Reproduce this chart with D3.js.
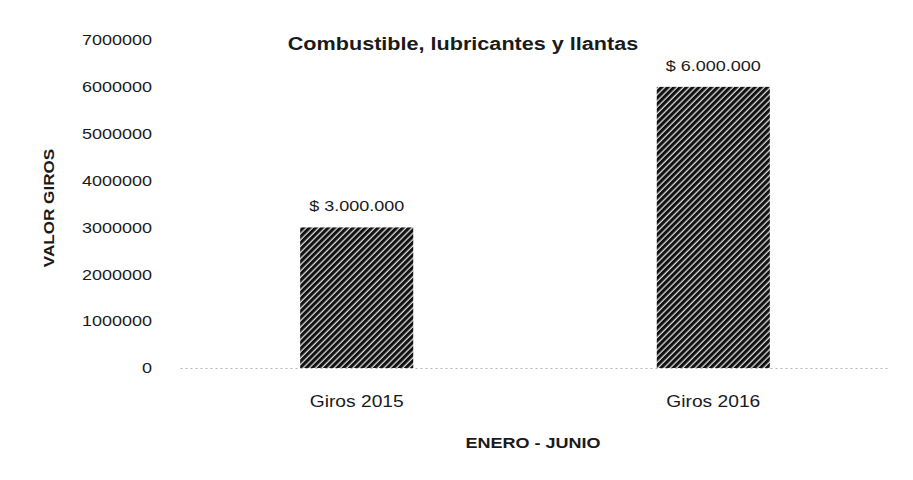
<!DOCTYPE html>
<html>
<head>
<meta charset="utf-8">
<script src="https://cdn.jsdelivr.net/npm/d3@7"></script>
<style>
  body { margin: 0; background: #fff; }
  text { font-family: "Liberation Sans", Arial, sans-serif; fill: #1a1a1a; }
</style>
</head>
<body>
<div id="chart"></div>
<script>
// chart values
var categories = ["Giros 2015", "Giros 2016"];
var values = [3000000, 6000000];
var valueLabels = ["$ 3.000.000", "$ 6.000.000"];
var yTicks = [0, 1000000, 2000000, 3000000, 4000000, 5000000, 6000000, 7000000];

var svgWidth = 913;
var svgHeight = 480;

// the scanned chart text is a bit wider than normal Arial
var stretchK = 1.2;

var svg = d3.select("#chart")
  .append("svg")
  .attr("width", svgWidth)
  .attr("height", svgHeight);

// hatch pattern for the bars
var defs = svg.append("defs");
var pat = defs.append("pattern")
  .attr("id", "hatch")
  .attr("patternUnits", "userSpaceOnUse")
  .attr("width", 4.4)
  .attr("height", 4.4)
  .attr("patternTransform", "rotate(45)");
pat.append("rect")
  .attr("width", 4.4).attr("height", 4.4)
  .attr("fill", "#dcdcdc");
pat.append("rect")
  .attr("width", 3.1).attr("height", 4.4)
  .attr("fill", "#111");

function stretch(sel, k) {
  sel.each(function() {
    var w = this.getComputedTextLength();
    d3.select(this)
      .attr("textLength", w * (k || stretchK))
      .attr("lengthAdjust", "spacingAndGlyphs");
  });
}

// scales
var x = d3.scaleBand()
  .domain(categories)
  .range([180, 890])
  .paddingInner(0.683)
  .paddingOuter(0.337);

var y = d3.scaleLinear()
  .domain([0, 7000000])
  .range([368, 40]);

// y axis (labels only)
var yAxis = svg.append("g")
  .attr("transform", "translate(180,0)")
  .call(d3.axisLeft(y).tickValues(yTicks).tickFormat(d3.format("d")).tickSize(0).tickPadding(28));
yAxis.select(".domain").remove();
yAxis.selectAll("text")
  .style("font-size", "15px")
  .attr("fill", "#1a1a1a")
  .call(stretch);

// bars
var data = categories.map(function(c, i) { return { cat: c, val: values[i], label: valueLabels[i] }; });

svg.selectAll("rect.bar")
  .data(data)
  .enter()
  .append("rect")
  .attr("class", "bar")
  .attr("x", d => x(d.cat))
  .attr("y", d => y(d.val))
  .attr("width", x.bandwidth())
  .attr("height", d => y(0) - y(d.val))
  .attr("fill", "url(#hatch)");

// value labels
svg.selectAll("text.val")
  .data(data)
  .enter()
  .append("text")
  .attr("class", "val")
  .attr("x", d => x(d.cat) + x.bandwidth() / 2)
  .attr("y", d => y(d.val) - 16)
  .attr("text-anchor", "middle")
  .style("font-size", "15px")
  .text(d => d.label)
  .call(stretch);

// x axis with dotted baseline
var xAxis = svg.append("g")
  .attr("transform", "translate(0," + y(0) + ")")
  .call(d3.axisBottom(x).tickSize(0).tickSizeOuter(0).tickPadding(28));
xAxis.select(".domain")
  .attr("stroke", "#b5b5b5")
  .attr("stroke-width", 1)
  .attr("stroke-dasharray", "2,3");
xAxis.selectAll("text")
  .style("font-size", "16px")
  .attr("fill", "#1a1a1a")
  .call(stretch);

// title
svg.append("text")
  .attr("x", 463)
  .attr("y", 50)
  .attr("text-anchor", "middle")
  .style("font-size", "18px")
  .style("font-weight", "bold")
  .text("Combustible, lubricantes y llantas")
  .call(stretch);

// axis titles
svg.append("text")
  .attr("x", 533)
  .attr("y", 448)
  .attr("text-anchor", "middle")
  .style("font-size", "15px")
  .style("font-weight", "bold")
  .text("ENERO - JUNIO")
  .call(stretch);

svg.append("text")
  .attr("transform", "translate(54,208) rotate(-90)")
  .attr("text-anchor", "middle")
  .style("font-size", "15px")
  .style("font-weight", "bold")
  .text("VALOR GIROS")
  .call(stretch, 1.14);
</script>
</body>
</html>
